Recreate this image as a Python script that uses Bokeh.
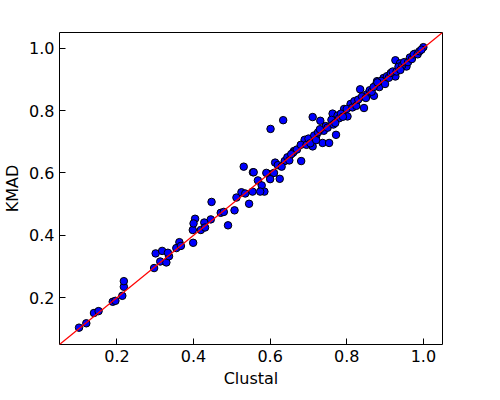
from bokeh.plotting import figure
from bokeh.embed import file_html
from bokeh.resources import INLINE
from bokeh.models import FixedTicker, Slope, PrintfTickFormatter

clustal = [0.101,0.12,0.14,0.152,0.189,0.196,0.214,0.218,0.218,0.297,0.301,0.318,0.313,0.329,0.336,0.333,0.355,0.363,0.367,0.399,0.398,0.404,0.4,0.419,0.428,0.43,0.445,0.447,0.471,0.479,0.49,0.507,0.512,0.525,0.535,0.545,0.554,0.568,0.578,0.585,0.574,0.555,0.595,0.625,
 0.601,0.634,0.711,0.531,0.557,0.613,0.638,0.662,0.681,0.69,0.711,0.72,0.731,0.737,0.754,0.763,0.772,0.776,0.793,0.802,0.81,0.835,0.845,0.853,0.871,0.879,0.896,0.927,0.927,0.939,0.956,0.978,1.0,
 0.61,0.62,0.645,0.65,0.66,0.67,0.68,0.695,0.70,0.705,0.715,0.725,0.74,0.745,0.75,0.76,0.765,0.78,0.785,0.79,0.80,0.815,0.82,0.825,0.83,0.84,0.85,0.86,0.865,0.875,0.885,0.89,0.90,0.905,0.91,0.915,0.92,0.93,0.935,0.945,0.95,0.96,0.965,0.97,0.975,0.985,0.99,0.995,0.6,0.59,0.63,0.655,0.72,0.73,0.77,0.87,0.88,0.94]
kmad = [0.104,0.118,0.151,0.157,0.187,0.19,0.206,0.235,0.253,0.295,0.342,0.35,0.316,0.313,0.333,0.344,0.359,0.378,0.366,0.376,0.417,0.453,0.438,0.417,0.441,0.425,0.451,0.507,0.472,0.475,0.432,0.48,0.521,0.538,0.534,0.501,0.54,0.576,0.56,0.54,0.54,0.602,0.597,0.581,
 0.741,0.769,0.779,0.62,0.602,0.633,0.638,0.67,0.638,0.706,0.685,0.717,0.767,0.696,0.696,0.79,0.722,0.784,0.805,0.781,0.821,0.868,0.808,0.852,0.847,0.894,0.904,0.961,0.909,0.951,0.941,0.982,1.003,
 0.6,0.625,0.65,0.64,0.665,0.675,0.69,0.69,0.71,0.695,0.72,0.73,0.735,0.75,0.745,0.77,0.755,0.775,0.79,0.78,0.805,0.81,0.83,0.815,0.835,0.845,0.84,0.865,0.86,0.88,0.875,0.895,0.885,0.91,0.905,0.92,0.925,0.925,0.94,0.945,0.955,0.955,0.97,0.965,0.98,0.98,0.99,0.995,0.58,0.6,0.62,0.66,0.705,0.74,0.76,0.875,0.89,0.93]

p = figure(width=484, height=390, x_range=(0.05,1.05), y_range=(0.05,1.05),
           output_backend="svg", toolbar_location=None, min_border_left=55,
           min_border_right=42, min_border_top=32, min_border_bottom=38)
p.outline_line_color="black"
p.xgrid.visible=False; p.ygrid.visible=False
p.scatter(clustal, kmad, size=7.5, fill_color="blue", line_color="black", line_width=1)
p.add_layout(Slope(gradient=1, y_intercept=0, line_color="red", line_width=1.2))
ticks=[0.2,0.4,0.6,0.8,1.0]
for ax in (p.xaxis, p.yaxis):
    ax.ticker=FixedTicker(ticks=ticks)
    ax.formatter=PrintfTickFormatter(format="%.1f")
    ax.minor_tick_line_color=None
    ax.major_tick_in=6; ax.major_tick_out=0
    ax.major_label_text_font_size="12pt"
    ax.major_label_text_font="DejaVu Sans"
    ax.major_label_text_color="black"
    ax.axis_label_text_font="DejaVu Sans"
    ax.axis_label_text_font_size="12pt"
    ax.axis_label_text_font_style="normal"
    ax.axis_label_text_color="black"
    ax.axis_label_standoff=4
    ax.axis_line_color=None
p.xaxis.axis_label="Clustal"; p.yaxis.axis_label="KMAD"
open("out.html","w").write(file_html(p, INLINE))
